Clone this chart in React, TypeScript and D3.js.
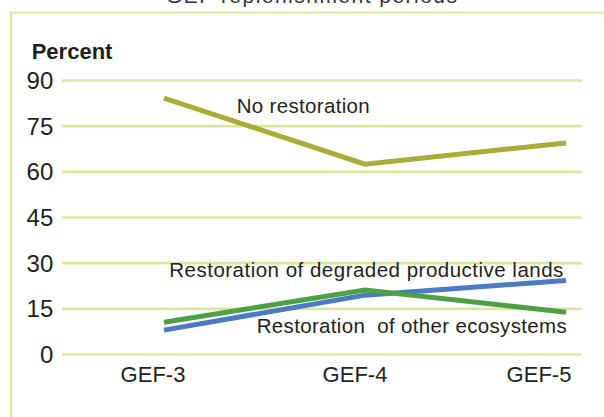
import React from "react";
import * as d3 from "d3";

const categories = ["GEF-3", "GEF-4", "GEF-5"];
const noRestoration = [84.2, 62.5, 69.5];
const degradedLands = [8.0, 19.5, 24.3];
const otherEcosystems = [10.6, 21.2, 13.9];
const yTicks = [0, 15, 30, 45, 60, 75, 90];

const W = 604;
const H = 417;
const tickNudge = [-11, -10, -27];

export default function App() {
  const x = d3.scalePoint<string>().domain(categories).range([164, 566]);
  const y = d3.scaleLinear().domain([0, 90]).range([354.5, 80.5]);
  const line = d3
    .line<number>()
    .x((_, i) => x(categories[i]) as number)
    .y((d) => y(d));

  const series = [
    { values: noRestoration, color: "#a8ad36" },
    { values: degradedLands, color: "#4a7bc4" },
    { values: otherEcosystems, color: "#4ca145" },
  ];

  const gridColor = "#dbe79c";
  const textColor = "#231f20";
  const sans = "'Liberation Sans', Arial, sans-serif";
  const narrow = "'Liberation Sans Narrow', 'Liberation Sans', Arial, sans-serif";

  return (
    <svg
      width={W}
      height={H}
      style={{ position: "absolute", left: 0, top: 0, display: "block", background: "#fff" }}
    >
      <text
        x={311.5}
        y={3}
        textAnchor="middle"
        fontFamily={sans}
        fontSize={21}
        fill="#333"
        textLength={291}
        lengthAdjust="spacing"
      >
        GEF replenishment periods
      </text>
      <path d={`M ${W + 10} 12.5 H 11 V ${H + 10}`} fill="none" stroke={gridColor} strokeWidth={2.2} />
      <text x={31.7} y={59.3} fontFamily={sans} fontWeight="bold" fontSize={22} fill={textColor}>
        Percent
      </text>
      {yTicks.map((t) => (
        <g key={t}>
          <line x1={62} x2={582} y1={y(t)} y2={y(t)} stroke={gridColor} strokeWidth={2.6} />
          <text x={53.3} y={y(t) + 8.5} textAnchor="end" fontFamily={narrow} fontSize={24} fill={textColor}>
            {t}
          </text>
        </g>
      ))}
      {categories.map((c, i) => (
        <text
          key={c}
          x={(x(c) as number) + tickNudge[i]}
          y={382}
          textAnchor="middle"
          fontFamily={sans}
          fontSize={22}
          fill={textColor}
        >
          {c}
        </text>
      ))}
      {series.map((s, i) => (
        <path
          key={i}
          d={line(s.values) || ""}
          fill="none"
          stroke={s.color}
          strokeWidth={5}
          strokeLinejoin="miter"
          strokeLinecap="butt"
        />
      ))}
      <text x={236.7} y={113} fontFamily={sans} fontSize={20.5} fill={textColor} textLength={133} lengthAdjust="spacing">
        No restoration
      </text>
      <text x={169.3} y={276.7} fontFamily={sans} fontSize={20.5} fill={textColor} textLength={394} lengthAdjust="spacing">
        Restoration of degraded productive lands
      </text>
      <text
        x={256.7}
        y={333}
        fontFamily={sans}
        fontSize={20.5}
        fill={textColor}
        textLength={310}
        lengthAdjust="spacing"
        style={{ whiteSpace: "pre" }}
      >
        {"Restoration  of other ecosystems"}
      </text>
    </svg>
  );
}
